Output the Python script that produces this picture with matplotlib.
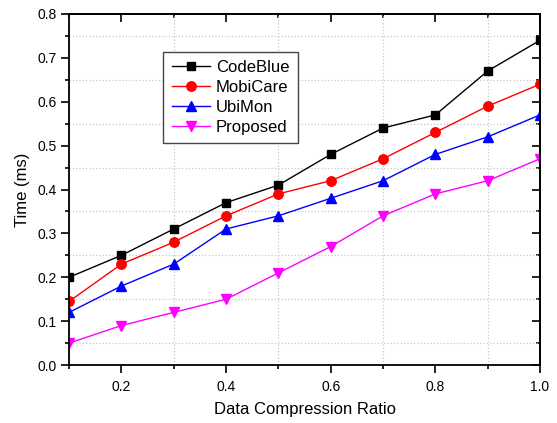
import matplotlib
matplotlib.use('Agg')
import matplotlib.pyplot as plt
from matplotlib.ticker import MultipleLocator, NullFormatter

plt.rcParams['font.family'] = ['Liberation Sans', 'DejaVu Sans']

# data
ratio = [0.1, 0.2, 0.3, 0.4, 0.5, 0.6, 0.7, 0.8, 0.9, 1.0]
codeblue = [0.20, 0.25, 0.31, 0.37, 0.41, 0.48, 0.54, 0.57, 0.67, 0.74]
mobicare = [0.145, 0.23, 0.28, 0.34, 0.39, 0.42, 0.47, 0.53, 0.59, 0.64]
ubimon = [0.12, 0.18, 0.23, 0.31, 0.34, 0.38, 0.42, 0.48, 0.52, 0.57]
proposed = [0.05, 0.09, 0.12, 0.15, 0.21, 0.27, 0.34, 0.39, 0.42, 0.47]

fig = plt.figure(figsize=(5.57, 4.23), dpi=100)
ax = fig.add_axes([0.124, 0.137, 0.8455, 0.83])

ax.plot(ratio, codeblue, color='black', marker='s', ms=5.8, lw=1, label='CodeBlue')
ax.plot(ratio, mobicare, color='red', marker='o', ms=6.8, lw=1, label='MobiCare')
ax.plot(ratio, ubimon, color='blue', marker='^', ms=7.2, lw=1, label='UbiMon')
ax.plot(ratio, proposed, color='magenta', marker='v', ms=7.2, lw=1, label='Proposed')

ax.set_xlim(0.1, 1.0)
ax.set_ylim(0, 0.8)
ax.xaxis.set_major_locator(MultipleLocator(0.2))
ax.xaxis.set_minor_locator(MultipleLocator(0.1))
ax.yaxis.set_major_locator(MultipleLocator(0.1))
ax.yaxis.set_minor_locator(MultipleLocator(0.05))
ax.grid(which='minor', color='#c8c8c8', linestyle=':', lw=0.9)
ax.tick_params(which='both', direction='out', width=1.2, labelsize=10)
ax.tick_params(axis='x', which='both', pad=5)
ax.tick_params(which='major', length=5.5)
ax.tick_params(which='minor', length=3)
for s in ax.spines.values():
    s.set_linewidth(1.3)

# inward ticks on top and right, as in the original
top = ax.secondary_xaxis('top')
top.xaxis.set_major_locator(MultipleLocator(0.2))
top.xaxis.set_minor_locator(MultipleLocator(0.1))
top.xaxis.set_major_formatter(NullFormatter())
right = ax.secondary_yaxis('right')
right.yaxis.set_major_locator(MultipleLocator(0.1))
right.yaxis.set_minor_locator(MultipleLocator(0.05))
right.yaxis.set_major_formatter(NullFormatter())
for sec in (top, right):
    sec.tick_params(which='both', direction='in', width=1.2)
    sec.tick_params(which='major', length=5.5)
    sec.tick_params(which='minor', length=3)
    for s in sec.spines.values():
        s.set_linewidth(1.3)

ax.set_xlabel('Data Compression Ratio', fontsize=12, labelpad=6)
ax.set_ylabel('Time (ms)', fontsize=12, labelpad=5)

leg = ax.legend(loc='upper left', bbox_to_anchor=(0.2, 0.893), fontsize=12,
                fancybox=False, framealpha=1, edgecolor='#444444',
                handlelength=2.3, handletextpad=0.35, borderpad=0.5,
                labelspacing=0.3, borderaxespad=0)
leg.get_frame().set_linewidth(1.0)

fig.savefig('out.png', dpi=100)
